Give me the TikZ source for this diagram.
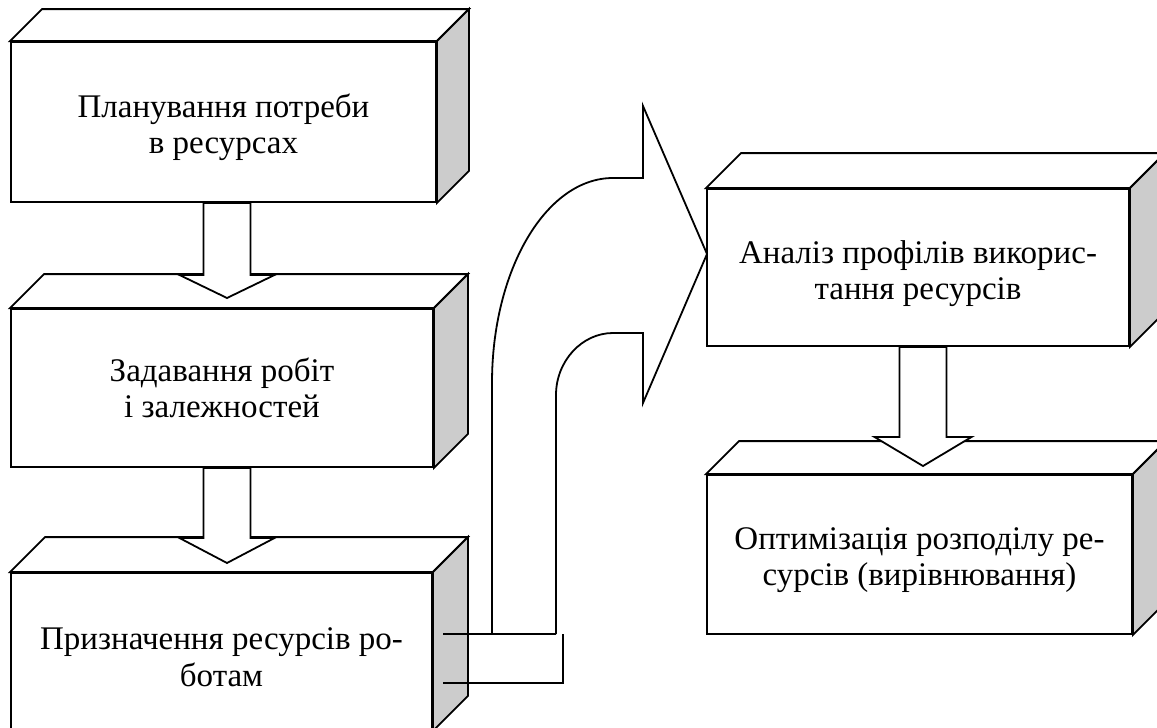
\documentclass[tikz,border=0pt]{standalone}
\usepackage{fontspec}
\setmainfont{Liberation Serif}
\usetikzlibrary{calc}
\tikzset{
  lw/.style={line width=1.8pt},
  front/.style={draw, lw, fill=white, align=center, font=\fontsize{33}{36.5}\selectfont, inner sep=0pt},
  topface/.style={draw, lw, fill=white, line join=miter},
  sideface/.style={draw, lw, fill=gray!40, line join=miter},
  blockarrow/.style={draw, lw, fill=white, line join=miter},
  conn/.style={draw, lw},
}
\newcommand\lowtext[1]{\rule{0pt}{#1pt}}
\newcommand\mycube[2]{%
  \draw[topface] (#1.north west) -- ++(#2,-#2) -- ($(#1.north east)+(#2,-#2)$) -- (#1.north east) -- cycle;
  \draw[sideface] (#1.north east) -- ++(#2,-#2) -- ($(#1.south east)+(#2,-#2)$) -- (#1.south east) -- cycle;
}
\newcommand\mydownarrow[4]{% box, tip, head half-width, head length
  \draw[blockarrow] ($(#2 |- #1.south)+(-23.5,0)$) -- ($(#2)+(-23.5,-#4)$) -- ($(#2)+(-#3,-#4)$) -- (#2)
    -- ($(#2)+(#3,-#4)$) -- ($(#2)+(23.5,-#4)$) -- ($(#2 |- #1.south)+(23.5,0)$) -- cycle;
}
\begin{document}
\begin{tikzpicture}[x=1pt,y=-1pt]
\useasboundingbox (0,0) rectangle (1157,728);
\clip (0,0) rectangle (1157,728);
% boxes
\node[front, minimum width=425pt, minimum height=160pt] (b1) at (223.5,122) {\lowtext{34}Планування потреби\\в ресурсах};
\mycube{b1}{32}
\node[front, minimum width=422pt, minimum height=158pt] (b2) at (222,388) {Задавання робіт\\і залежностей};
\mycube{b2}{34}
\node[front, minimum width=421pt, minimum height=157pt] (b3) at (221.5,651.5) {\lowtext{33}Призначення ресурсів ро-\\ботам};
\mycube{b3}{35}
\node[front, minimum width=422pt, minimum height=157pt] (b4) at (918,267.5) {\lowtext{35}Аналіз профілів викорис-\\тання ресурсів};
\mycube{b4}{35}
\node[front, minimum width=425pt, minimum height=159pt] (b5) at (919.5,554.5) {\lowtext{33}Оптимізація розподілу ре-\\сурсів (вирівнювання)};
\mycube{b5}{33}
% down arrows
\coordinate (t1) at (227,298);
\coordinate (t2) at (227,563);
\coordinate (t3) at (923,466);
\mydownarrow{b1}{t1}{47.5}{23}
\mydownarrow{b2}{t2}{47.5}{25}
\mydownarrow{b4}{t3}{48.5}{29}
% curved arrow from b3 to b4
\coordinate (o0) at (492,634);
\coordinate (i0) at (556,634);
\coordinate (tip) at (707,254);
\draw[blockarrow] (o0) -- (492,383) .. controls (492,270) and (546,178) .. (613,178) -- (643,178) -- (643,106)
  -- (tip) -- (643,403) -- (643,333) -- (613,333) .. controls (582,333) and (556,361) .. (556,395) -- (i0);
% connector lines out of b3
\coordinate (c1) at (443,634);
\coordinate (c3) at (443,683);
\coordinate (c4) at (563,683);
\coordinate (c5) at (563,634);
\draw[conn] (c1) -- (i0);
\draw[conn, line join=miter] (c3) -- (c4) -- (c5);
\end{tikzpicture}
\end{document}
